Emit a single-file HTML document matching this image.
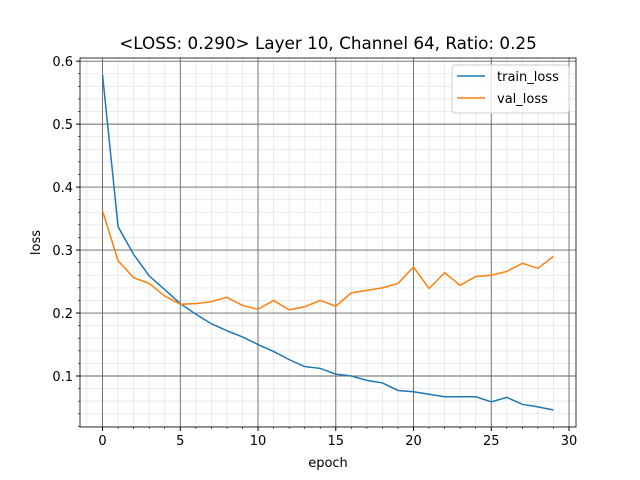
<!DOCTYPE html>
<html><head><meta charset="utf-8"><style>body{margin:0;background:#fff}svg{display:block;font-family:"DejaVu Sans","Liberation Sans",sans-serif}</style></head>
<body>
<svg id="chart" width="640" height="480"></svg>
<script>
const epochs=[0,1,2,3,4,5,6,7,8,9,10,11,12,13,14,15,16,17,18,19,20,21,22,23,24,25,26,27,28,29];
const trainLoss=[0.578,0.337,0.293,0.259,0.237,0.215,0.198,0.183,0.172,0.162,0.150,0.139,0.126,0.115,0.112,0.103,0.100,0.093,0.089,0.077,0.075,0.071,0.067,0.067,0.067,0.059,0.066,0.055,0.051,0.046];
const valLoss=[0.362,0.283,0.256,0.247,0.227,0.214,0.215,0.218,0.225,0.212,0.206,0.220,0.205,0.210,0.220,0.211,0.232,0.236,0.240,0.247,0.273,0.239,0.264,0.244,0.258,0.260,0.266,0.279,0.271,0.290];
const xTicks=[0,5,10,15,20,25,30];
const yTicks=[0.1,0.2,0.3,0.4,0.5,0.6];
const L=80,R=576,T=58,B=427;
const xMin=-1.45,xMax=30.45,yMin=0.019,yMax=0.605;
const X=v=>L+(v-xMin)/(xMax-xMin)*(R-L);
const Y=v=>B-(v-yMin)/(yMax-yMin)*(B-T);
const svg=document.getElementById('chart');
const NS='http://www.w3.org/2000/svg';
function mk(tag,attrs,parent){const e=document.createElementNS(NS,tag);for(const k in attrs)e.setAttribute(k,attrs[k]);(parent||svg).appendChild(e);return e;}
for(let i=-1;i<=30;i++){if(i%5===0)continue;const x=X(i);const e=mk('line',{x1:x,x2:x,y1:T,y2:B,stroke:'#e6e6e6','stroke-width':0.8});

}
for(let v=0.02;v<0.605;v+=0.02){const r=Math.round(v*100);if(r%10===0)continue;const y=Y(v);const e=mk('line',{x1:L,x2:R,y1:y,y2:y,stroke:'#e6e6e6','stroke-width':0.8});

}
xTicks.forEach(t=>{const x=X(t);const g=mk('line',{x1:x,x2:x,y1:T,y2:B,stroke:'#666','stroke-width':0.9});


mk('line',{x1:x,x2:x,y1:B,y2:B+4,stroke:'#000'});
const tx=mk('text',{x:x,y:B+18,'font-size':13,'text-anchor':'middle'});tx.textContent=t;

});
for(let i=0;i<=30;i++){if(i%5)mk('line',{x1:X(i),x2:X(i),y1:B,y2:B+2,stroke:'#000','stroke-width':0.6});}
yTicks.forEach(t=>{const y=Y(t);const g=mk('line',{x1:L,x2:R,y1:y,y2:y,stroke:'#666','stroke-width':0.9});


mk('line',{x1:L-4,x2:L,y1:y,y2:y,stroke:'#000'});
const tx=mk('text',{x:L-7,y:y+5,'font-size':13,'text-anchor':'end'});tx.textContent=t.toFixed(1);

});
for(let v=0.02;v<0.605;v+=0.02){const r=Math.round(v*100);if(r%10)mk('line',{x1:L-2,x2:L,y1:Y(v),y2:Y(v),stroke:'#000','stroke-width':0.6});}
function line(data,color,name){const p=mk('polyline',{points:data.map((v,i)=>X(epochs[i])+','+Y(v)).join(' '),fill:'none',stroke:color,'stroke-width':1.5});

}
line(trainLoss,'#1f77b4','train-loss-line');
line(valLoss,'#ff7f0e','val-loss-line');
const f=mk('rect',{x:L,y:T,width:R-L,height:B-T,fill:'none',stroke:'#000','stroke-width':0.8});


const ti=mk('text',{x:(L+R)/2,y:49,'font-size':16.8,'text-anchor':'middle'});ti.textContent='<LOSS: 0.290> Layer 10, Channel 64, Ratio: 0.25';


const xl=mk('text',{x:(L+R)/2,y:467,'font-size':13,'text-anchor':'middle'});xl.textContent='epoch';


const yl=mk('text',{x:0,y:0,'font-size':13,'text-anchor':'middle',transform:`translate(40,${(T+B)/2}) rotate(-90)`});yl.textContent='loss';


const lg=mk('rect',{x:452,y:65,width:117,height:48,rx:3,fill:'#fff','fill-opacity':0.8,stroke:'#ccc'});


[['train_loss','#1f77b4',76],['val_loss','#ff7f0e',98]].forEach(([n,c,y])=>{
mk('line',{x1:457,x2:485,y1:y,y2:y,stroke:c,'stroke-width':1.5});
const t=mk('text',{x:497,y:y+5,'font-size':13});t.textContent=n;

});
</script>
</body></html>
